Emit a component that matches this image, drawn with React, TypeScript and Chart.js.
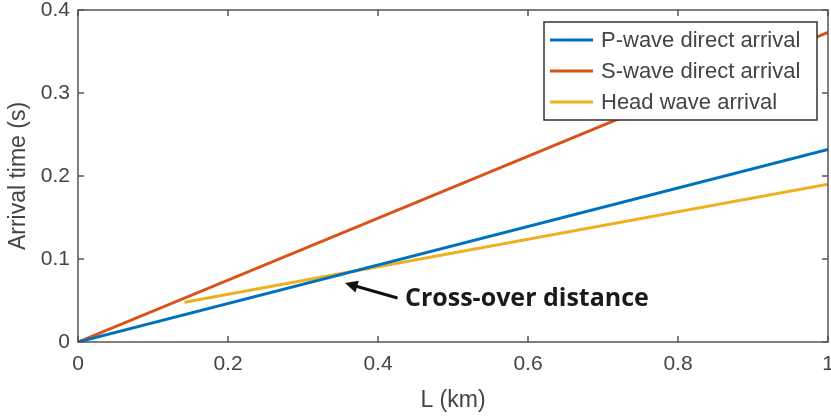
import React, { useEffect, useRef } from "react";
import { Chart, registerables } from "chart.js";

Chart.register(...registerables);

// ---- data ----
const pWaveL = [0, 1];
const pWaveT = [0, 0.232];
const sWaveL = [0, 1];
const sWaveT = [0, 0.373];
const headL = [0.142, 1];
const headT = [0.048, 0.19];
const seriesLabels = ["P-wave direct arrival", "S-wave direct arrival", "Head wave arrival"];
const xTicks = [0, 0.2, 0.4, 0.6, 0.8, 1];
const yTicks = [0, 0.1, 0.2, 0.3, 0.4];
const annotationText = "Cross-over distance";
const arrowTip = { x: 0.356, y: 0.071 };
const arrowTail = { x: 0.426, y: 0.053 };
const textAnchor = { x: 0.436, y: 0.052 };

const COLORS = ["#0072BD", "#D95319", "#EDB120"];
const AXIS = "#555555";
const TXT = "#444444";
const FONT = "'Liberation Sans', Arial, sans-serif";

const pts = (xs: number[], ys: number[]) => xs.map((x, i) => ({ x, y: ys[i] }));

const boxPlugin = {
  id: "boxTicks",
  afterDatasetsDraw(chart: any) {
    const { ctx, chartArea: a, scales } = chart;
    ctx.save();
    ctx.strokeStyle = AXIS;
    ctx.lineWidth = 1.5;
    ctx.strokeRect(a.left, a.top, a.right - a.left, a.bottom - a.top);
    const L = 6;
    ctx.beginPath();
    xTicks.forEach((v) => {
      const px = scales.x.getPixelForValue(v);
      ctx.moveTo(px, a.bottom);
      ctx.lineTo(px, a.bottom - L);
      ctx.moveTo(px, a.top);
      ctx.lineTo(px, a.top + L);
    });
    yTicks.forEach((v) => {
      const py = scales.y.getPixelForValue(v);
      ctx.moveTo(a.left, py);
      ctx.lineTo(a.left + L, py);
      ctx.moveTo(a.right, py);
      ctx.lineTo(a.right - L, py);
    });
    ctx.stroke();

    // annotation arrow + text
    const tx = scales.x.getPixelForValue(arrowTip.x);
    const ty = scales.y.getPixelForValue(arrowTip.y);
    const sx = scales.x.getPixelForValue(arrowTail.x);
    const sy = scales.y.getPixelForValue(arrowTail.y);
    const ang = Math.atan2(ty - sy, tx - sx);
    ctx.strokeStyle = "#111";
    ctx.fillStyle = "#111";
    ctx.lineWidth = 3;
    const hl = 14;
    ctx.beginPath();
    ctx.moveTo(sx, sy);
    ctx.lineTo(tx - Math.cos(ang) * hl * 0.7, ty - Math.sin(ang) * hl * 0.7);
    ctx.stroke();
    ctx.beginPath();
    ctx.moveTo(tx, ty);
    ctx.lineTo(tx - hl * Math.cos(ang - 0.45), ty - hl * Math.sin(ang - 0.45));
    ctx.lineTo(tx - hl * Math.cos(ang + 0.45), ty - hl * Math.sin(ang + 0.45));
    ctx.closePath();
    ctx.fill();
    ctx.font = "bold 25px 'Open Sans', sans-serif";
    ctx.textBaseline = "middle";
    ctx.textAlign = "left";
    ctx.fillStyle = "#1a1a1a";
    ctx.fillText(
      annotationText,
      scales.x.getPixelForValue(textAnchor.x),
      scales.y.getPixelForValue(textAnchor.y)
    );

    // legend
    const lx = 544, ly = 22, lw = 273, lh = 98;
    ctx.fillStyle = "#ffffff";
    ctx.fillRect(lx, ly, lw, lh);
    ctx.strokeStyle = "#333";
    ctx.lineWidth = 1.5;
    ctx.strokeRect(lx, ly, lw, lh);
    ctx.font = `22px ${FONT}`;
    chart.data.datasets.forEach((ds: any, i: number) => {
      const yy = ly + 18 + i * 31;
      ctx.strokeStyle = ds.borderColor;
      ctx.lineWidth = 3;
      ctx.beginPath();
      ctx.moveTo(lx + 6, yy);
      ctx.lineTo(lx + 49, yy);
      ctx.stroke();
      ctx.fillStyle = TXT;
      ctx.textBaseline = "middle";
      ctx.fillText(ds.label, lx + 57, yy + 1);
    });
    ctx.restore();
  },
};

export default function App() {
  const ref = useRef<HTMLCanvasElement>(null);
  useEffect(() => {
    document.body.style.margin = "0";
    const chart = new Chart(ref.current!, {
      type: "line",
      data: {
        datasets: [
          { label: seriesLabels[0], data: pts(pWaveL, pWaveT), borderColor: COLORS[0] },
          { label: seriesLabels[1], data: pts(sWaveL, sWaveT), borderColor: COLORS[1] },
          { label: seriesLabels[2], data: pts(headL, headT), borderColor: COLORS[2] },
        ].map((d) => ({ ...d, borderWidth: 3, pointRadius: 0, fill: false, tension: 0 })),
      },
      plugins: [boxPlugin],
      options: {
        animation: false,
        responsive: false,
        layout: { autoPadding: false, padding: { top: 10, right: 3, left: 0, bottom: 0 } },
        plugins: { legend: { display: false }, tooltip: { enabled: false } },
        scales: {
          x: {
            type: "linear",
            min: 0,
            max: 1,
            afterBuildTicks: (s: any) => { s.ticks = xTicks.map((v) => ({ value: v })); },
            afterFit: (s: any) => { s.height = 77; s.paddingLeft = 0; s.paddingRight = 0; },
            grid: { display: false, drawTicks: false },
            border: { display: false },
            ticks: { color: TXT, font: { family: FONT, size: 21 }, padding: 10, maxRotation: 0, callback: (v: any) => String(v) },
            title: { display: true, text: "L (km)", color: TXT, font: { family: FONT, size: 23 }, padding: { top: 0, bottom: 5 } },
          },
          y: {
            type: "linear",
            min: 0,
            max: 0.4,
            afterBuildTicks: (s: any) => { s.ticks = yTicks.map((v) => ({ value: v })); },
            afterFit: (s: any) => { s.width = 78; s.paddingTop = 0; s.paddingBottom = 0; },
            grid: { display: false, drawTicks: false },
            border: { display: false },
            ticks: { color: TXT, font: { family: FONT, size: 21 }, padding: 8, callback: (v: any) => String(v) },
            title: { display: true, text: "Arrival time (s)", color: TXT, font: { family: FONT, size: 23 }, padding: { top: 5, bottom: 0 } },
          },
        },
      },
    } as any);
    return () => chart.destroy();
  }, []);
  return <canvas ref={ref} width={831} height={419} style={{ display: "block" }} />;
}
